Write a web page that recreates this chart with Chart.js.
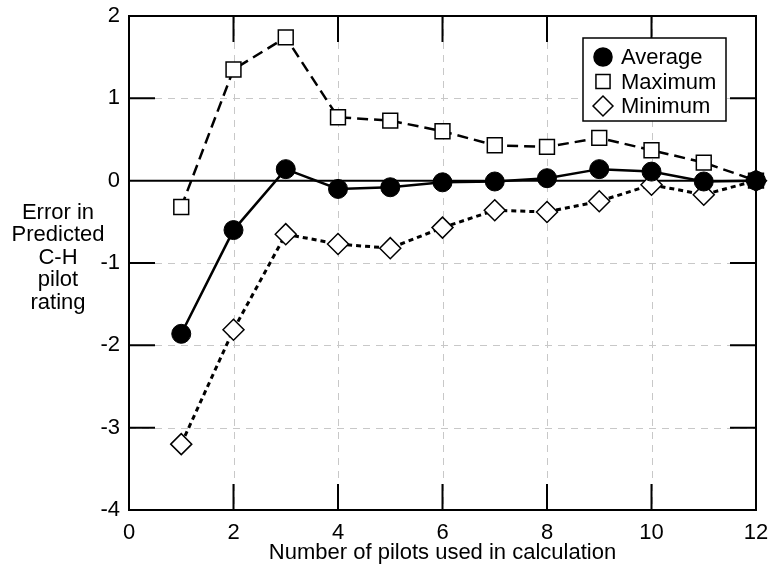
<!DOCTYPE html>
<html>
<head>
<meta charset="utf-8">
<script src="https://cdn.jsdelivr.net/npm/chart.js@4/dist/chart.umd.min.js"></script>
<style>
  html, body { margin: 0; padding: 0; background: #fff; }
  #wrap { width: 772px; height: 569px; }
</style>
</head>
<body>
<div id="wrap"><canvas id="chart" width="772" height="569"></canvas></div>
<script>
// values
const pilots = [1, 2, 3, 4, 5, 6, 7, 8, 9, 10, 11, 12];
const average = [-1.86, -0.60, 0.14, -0.10, -0.08, -0.02, -0.01, 0.03, 0.14, 0.11, -0.01, 0];
const maximum = [-0.32, 1.35, 1.74, 0.77, 0.73, 0.60, 0.43, 0.41, 0.52, 0.37, 0.22, 0];
const minimum = [-3.20, -1.81, -0.65, -0.77, -0.82, -0.57, -0.36, -0.38, -0.25, -0.05, -0.17, 0];
const xTicks = [0, 2, 4, 6, 8, 10, 12];
const yTicks = [-4, -3, -2, -1, 0, 1, 2];
const yTitle = ['Error in', 'Predicted', 'C-H', 'pilot', 'rating'];
const xTitle = 'Number of pilots used in calculation';

const FONT = '"Liberation Sans", Arial, sans-serif';
const pts = arr => pilots.map((x, i) => ({ x: x, y: arr[i] }));

// frame, dashed grid, inner ticks, zero line, legend and the horizontal y title
const framePlugin = {
    id: 'frame',
    beforeDatasetsDraw(chart) {
        const { ctx, chartArea: a, scales: { x, y } } = chart;
        ctx.save();
        ctx.strokeStyle = '#c8c8c8'; ctx.lineWidth = 1; ctx.setLineDash([7, 6]);
        xTicks.forEach(v => { if (v <= 0 || v >= 12) return; const px = Math.round(x.getPixelForValue(v)) + 0.5; ctx.beginPath(); ctx.moveTo(px, a.top); ctx.lineTo(px, a.bottom); ctx.stroke(); });
        yTicks.forEach(v => { if (v <= -4 || v >= 2 || v === 0) return; const py = Math.round(y.getPixelForValue(v)) + 0.5; ctx.beginPath(); ctx.moveTo(a.left, py); ctx.lineTo(a.right, py); ctx.stroke(); });
        ctx.setLineDash([]);
        ctx.strokeStyle = '#000'; ctx.lineWidth = 2;
        const tl = 26;
        xTicks.forEach(v => { if (v <= 0 || v >= 12) return; const px = x.getPixelForValue(v); ctx.beginPath(); ctx.moveTo(px, a.top); ctx.lineTo(px, a.top + tl); ctx.moveTo(px, a.bottom); ctx.lineTo(px, a.bottom - tl); ctx.stroke(); });
        yTicks.forEach(v => { if (v <= -4 || v >= 2 || v === 0) return; const py = y.getPixelForValue(v); ctx.beginPath(); ctx.moveTo(a.left, py); ctx.lineTo(a.left + tl, py); ctx.moveTo(a.right, py); ctx.lineTo(a.right - tl, py); ctx.stroke(); });
        const zy = y.getPixelForValue(0);
        ctx.beginPath(); ctx.moveTo(a.left, zy); ctx.lineTo(a.right, zy); ctx.stroke();
        ctx.strokeRect(a.left, a.top, a.right - a.left, a.bottom - a.top);
        ctx.restore();
    },
    afterDraw(chart) {
        const { ctx } = chart;
        ctx.save();
        ctx.font = '22px ' + FONT; ctx.fillStyle = '#000';
        ctx.textAlign = 'center'; ctx.textBaseline = 'middle';
        yTitle.forEach((t, i) => ctx.fillText(t, 58, 213 + i * 22.4));

        // legend
        const lx = 583, ly = 38, lw = 143, lh = 83;
        ctx.fillStyle = '#fff'; ctx.fillRect(lx, ly, lw, lh);
        ctx.strokeStyle = '#000'; ctx.lineWidth = 1.5; ctx.strokeRect(lx, ly, lw, lh);
        ctx.textAlign = 'left';
        chart.data.datasets.forEach((ds, i) => {
            const ry = 57 + i * 24.5;
            ctx.fillStyle = ds.pointBackgroundColor; ctx.strokeStyle = '#000'; ctx.lineWidth = 1.5; ctx.setLineDash([]);
            Chart.helpers.drawPoint(ctx, { pointStyle: ds.pointStyle, radius: ds.pointRadius * 0.95, borderWidth: 1.5, rotation: 0 }, 603, ry);
            ctx.fillStyle = '#000';
            ctx.fillText(ds.label, 621, ry + 1);
        });
        ctx.restore();
    }
};

new Chart(document.getElementById('chart').getContext('2d'), {
    type: 'line',
    data: {
        datasets: [
            { label: 'Average', data: pts(average), borderColor: '#000', borderWidth: 2.5, pointStyle: 'circle', pointRadius: 9.5, pointBackgroundColor: '#000', pointBorderColor: '#000', pointBorderWidth: 1, clip: false, tension: 0 },
            { label: 'Maximum', data: pts(maximum), borderColor: '#000', borderWidth: 2.5, borderDash: [11, 6], pointStyle: 'rect', pointRadius: 10.5, pointBackgroundColor: '#fff', pointBorderColor: '#000', pointBorderWidth: 1.5, clip: false, tension: 0 },
            { label: 'Minimum', data: pts(minimum), borderColor: '#000', borderWidth: 3, borderDash: [5, 4], pointStyle: 'rectRot', pointRadius: 10.5, pointBackgroundColor: '#fff', pointBorderColor: '#000', pointBorderWidth: 1.5, clip: false, tension: 0 }
        ]
    },
    options: {
        responsive: false,
        animation: false,
        layout: { padding: { left: 0, right: 16, top: 16, bottom: 0 } },
        plugins: { legend: { display: false }, tooltip: { enabled: false } },
        scales: {
            x: {
                type: 'linear', min: 0, max: 12,
                afterBuildTicks: s => { s.ticks = xTicks.map(v => ({ value: v })); },
                afterFit: s => { s.height = 59; s.paddingLeft = 0; s.paddingRight = 0; },
                grid: { display: false, drawTicks: false },
                border: { display: false },
                ticks: { color: '#000', font: { family: FONT, size: 22 }, padding: 10, maxRotation: 0 },
                title: { display: true, text: xTitle, color: '#000', font: { family: FONT, size: 22 }, padding: { top: 0, bottom: 3 } }
            },
            y: {
                type: 'linear', min: -4, max: 2,
                afterBuildTicks: s => { s.ticks = yTicks.map(v => ({ value: v })); },
                afterFit: s => { s.width = 129; s.paddingTop = 0; s.paddingBottom = 0; },
                grid: { display: false, drawTicks: false },
                border: { display: false },
                ticks: { color: '#000', font: { family: FONT, size: 22 }, padding: 9 }
            }
        }
    },
    plugins: [framePlugin]
});
</script>
</body>
</html>
